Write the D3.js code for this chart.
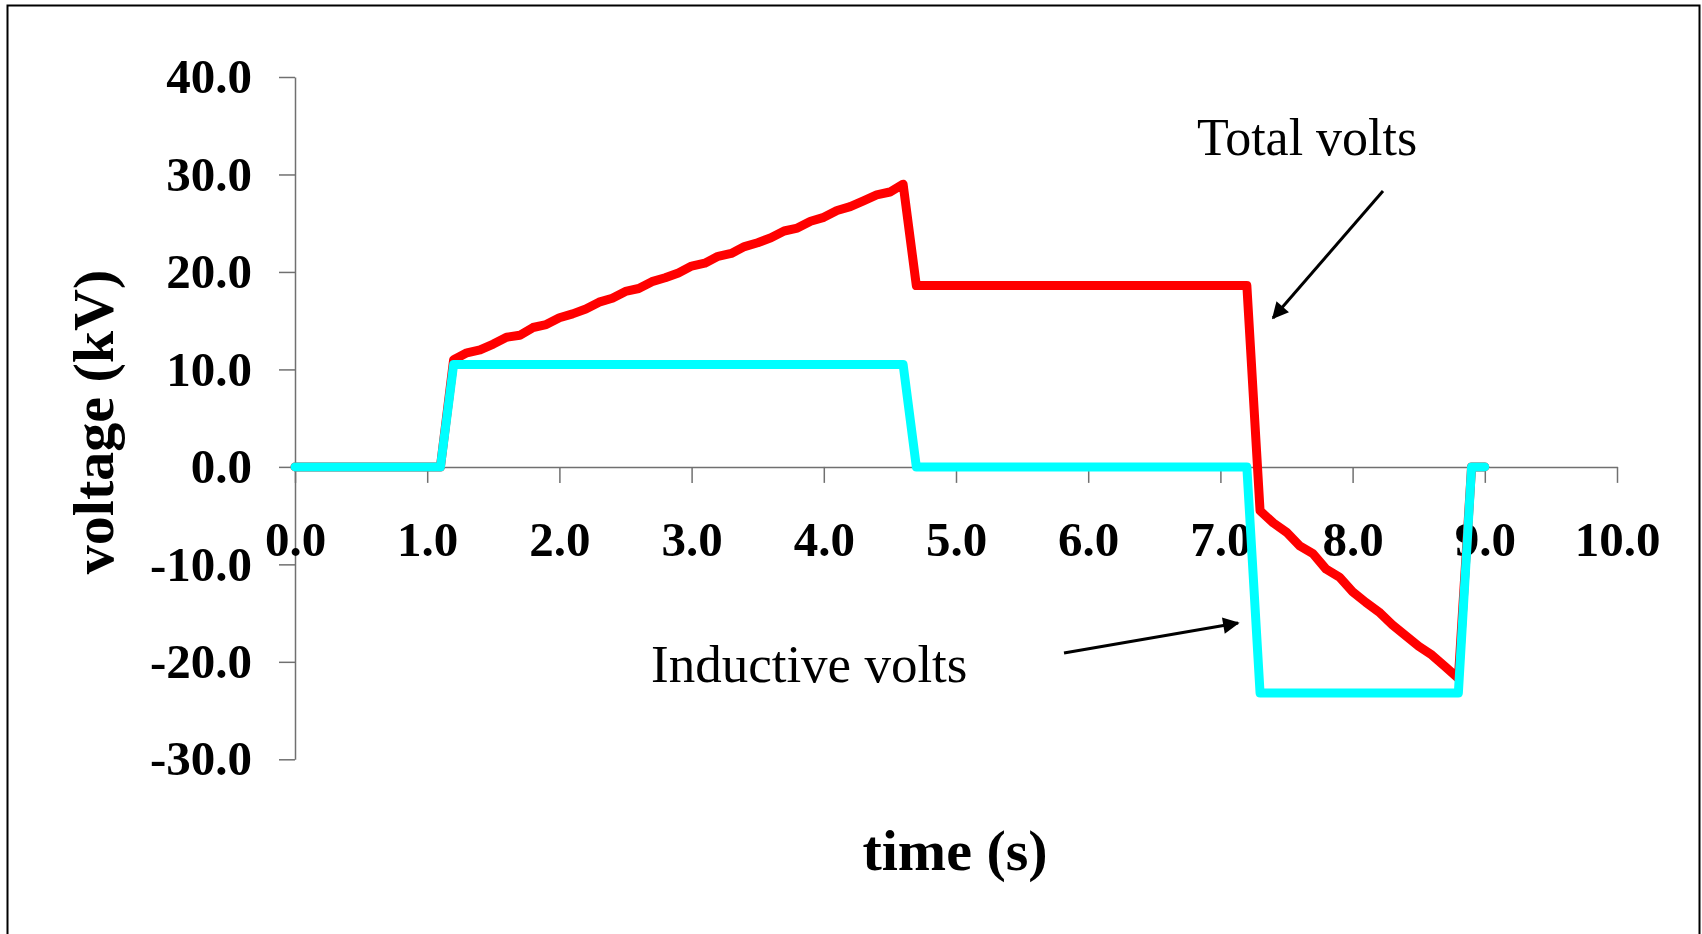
<!DOCTYPE html>
<html>
<head>
<meta charset="utf-8">
<script src="https://cdn.jsdelivr.net/npm/d3@7"></script>
<style>
  html, body { margin: 0; padding: 0; background: #fff; }
  svg { display: block; }
</style>
</head>
<body>
<svg id="chart" width="1702" height="934"></svg>
<script>
// ---- data ----
const totalTime = [0.0, 1.1, 1.2, 1.3, 1.4, 1.5, 1.6, 1.7, 1.8, 1.9, 2.0, 2.1, 2.2, 2.3, 2.4, 2.5, 2.6, 2.7, 2.8, 2.9,
  3.0, 3.1, 3.2, 3.3, 3.4, 3.5, 3.6, 3.7, 3.8, 3.9, 4.0, 4.1, 4.2, 4.3, 4.4, 4.5, 4.6, 4.7, 7.2,
  7.3, 7.4, 7.5, 7.6, 7.7, 7.8, 7.9, 8.0, 8.1, 8.2, 8.3, 8.4, 8.5, 8.6, 8.7, 8.8, 8.9, 9.0];
const totalVolts = [0.0, 0.0, 11.0, 11.7, 12.0, 12.6, 13.3, 13.5, 14.3, 14.6, 15.3, 15.7, 16.2, 16.9, 17.3, 18.0, 18.3, 19.0, 19.4, 19.9,
  20.6, 20.9, 21.6, 21.9, 22.6, 23.0, 23.5, 24.2, 24.5, 25.2, 25.6, 26.3, 26.7, 27.3, 27.9, 28.2, 29.0, 18.6, 18.6,
  -4.5, -5.75, -6.7, -8.1, -8.9, -10.5, -11.3, -12.8, -13.9, -14.9, -16.2, -17.3, -18.4, -19.3, -20.5, -21.7, 0.0, 0.0];

const inductiveTime  = [0.0, 1.1, 1.2, 4.6, 4.7, 7.2, 7.3, 8.8, 8.9, 9.0];
const inductiveVolts = [0.0, 0.0, 10.5, 10.5, 0.0, 0.0, -23.2, -23.2, 0.0, 0.0];

const xTicks = [0, 1, 2, 3, 4, 5, 6, 7, 8, 9, 10];
const yTicks = [-30, -20, -10, 0, 10, 20, 30, 40];

const xTitle = "time (s)";
const yTitle = "voltage (kV)";
const labelTotal = "Total volts";
const labelInductive = "Inductive volts";

// ---- drawing ----
const svg = d3.select("#chart");
const serif = "'Liberation Serif', 'Times New Roman', Times, serif";
const fmt = d => d.toFixed(1); // plain hyphen for negatives

// outer frame
svg.append("rect")
  .attr("x", 7.5).attr("y", 5.5)
  .attr("width", 1692).attr("height", 940)
  .attr("fill", "none").attr("stroke", "#000").attr("stroke-width", 2);

const x = d3.scaleLinear().domain([0, 10]).range([295, 1617]);
const y = d3.scaleLinear().domain([-30, 40]).range([759.3, 77]);

const axisColor = "#707070";

// y axis
const yAxis = svg.append("g")
  .attr("transform", `translate(${x(0)},0)`)
  .call(d3.axisLeft(y).tickValues(yTicks).tickSize(16).tickSizeOuter(0).tickPadding(27)
    .tickFormat(fmt));
yAxis.select(".domain").attr("stroke", axisColor).attr("stroke-width", 1.5);
yAxis.selectAll(".tick line").attr("stroke", axisColor).attr("stroke-width", 1.5);
yAxis.selectAll(".tick text")
  .attr("font-family", serif).attr("font-weight", "bold").attr("font-size", 49).attr("fill", "#000");

// x axis
const xAxis = svg.append("g")
  .attr("transform", `translate(0,${y(0)})`)
  .call(d3.axisBottom(x).tickValues(xTicks).tickSize(16).tickSizeOuter(0).tickPadding(38)
    .tickFormat(fmt));
xAxis.select(".domain").attr("stroke", axisColor).attr("stroke-width", 1.5);
xAxis.selectAll(".tick line").attr("stroke", axisColor).attr("stroke-width", 1.5);
xAxis.selectAll(".tick text")
  .attr("font-family", serif).attr("font-weight", "bold").attr("font-size", 49).attr("fill", "#000");

// lines
const line = d3.line().x(d => x(d[0])).y(d => y(d[1]));
const totalPts = totalTime.map((t, i) => [t, totalVolts[i]]);
const indPts = inductiveTime.map((t, i) => [t, inductiveVolts[i]]);

svg.append("path").datum(totalPts)
  .attr("d", line).attr("fill", "none").attr("stroke", "#ff0000")
  .attr("stroke-width", 9).attr("stroke-linejoin", "round").attr("stroke-linecap", "round");
svg.append("path").datum(indPts)
  .attr("d", line).attr("fill", "none").attr("stroke", "#00ffff")
  .attr("stroke-width", 9).attr("stroke-linejoin", "round").attr("stroke-linecap", "round");

// axis titles
svg.append("text")
  .attr("x", 955).attr("y", 870)
  .attr("text-anchor", "middle")
  .attr("font-family", serif).attr("font-weight", "bold").attr("font-size", 58)
  .text(xTitle);
svg.append("text")
  .attr("transform", "translate(113,422) rotate(-90)")
  .attr("text-anchor", "middle")
  .attr("font-family", serif).attr("font-weight", "bold").attr("font-size", 58)
  .text(yTitle);

// annotations
svg.append("defs").append("marker")
  .attr("id", "arrow").attr("viewBox", "0 0 10 10")
  .attr("refX", 9).attr("refY", 5)
  .attr("markerWidth", 7).attr("markerHeight", 5.5)
  .attr("markerUnits", "strokeWidth")
  .attr("orient", "auto")
  .append("path").attr("d", "M0,0 L10,5 L0,10 z").attr("fill", "#000");

svg.append("text")
  .attr("x", 1197).attr("y", 155)
  .attr("font-family", serif).attr("font-size", 52)
  .text(labelTotal);
svg.append("line")
  .attr("x1", 1383).attr("y1", 191).attr("x2", 1273).attr("y2", 318)
  .attr("stroke", "#000").attr("stroke-width", 3).attr("marker-end", "url(#arrow)");

svg.append("text")
  .attr("x", 651).attr("y", 682)
  .attr("font-family", serif).attr("font-size", 53)
  .text(labelInductive);
svg.append("line")
  .attr("x1", 1064).attr("y1", 653).attr("x2", 1238).attr("y2", 623)
  .attr("stroke", "#000").attr("stroke-width", 3).attr("marker-end", "url(#arrow)");
</script>
</body>
</html>
